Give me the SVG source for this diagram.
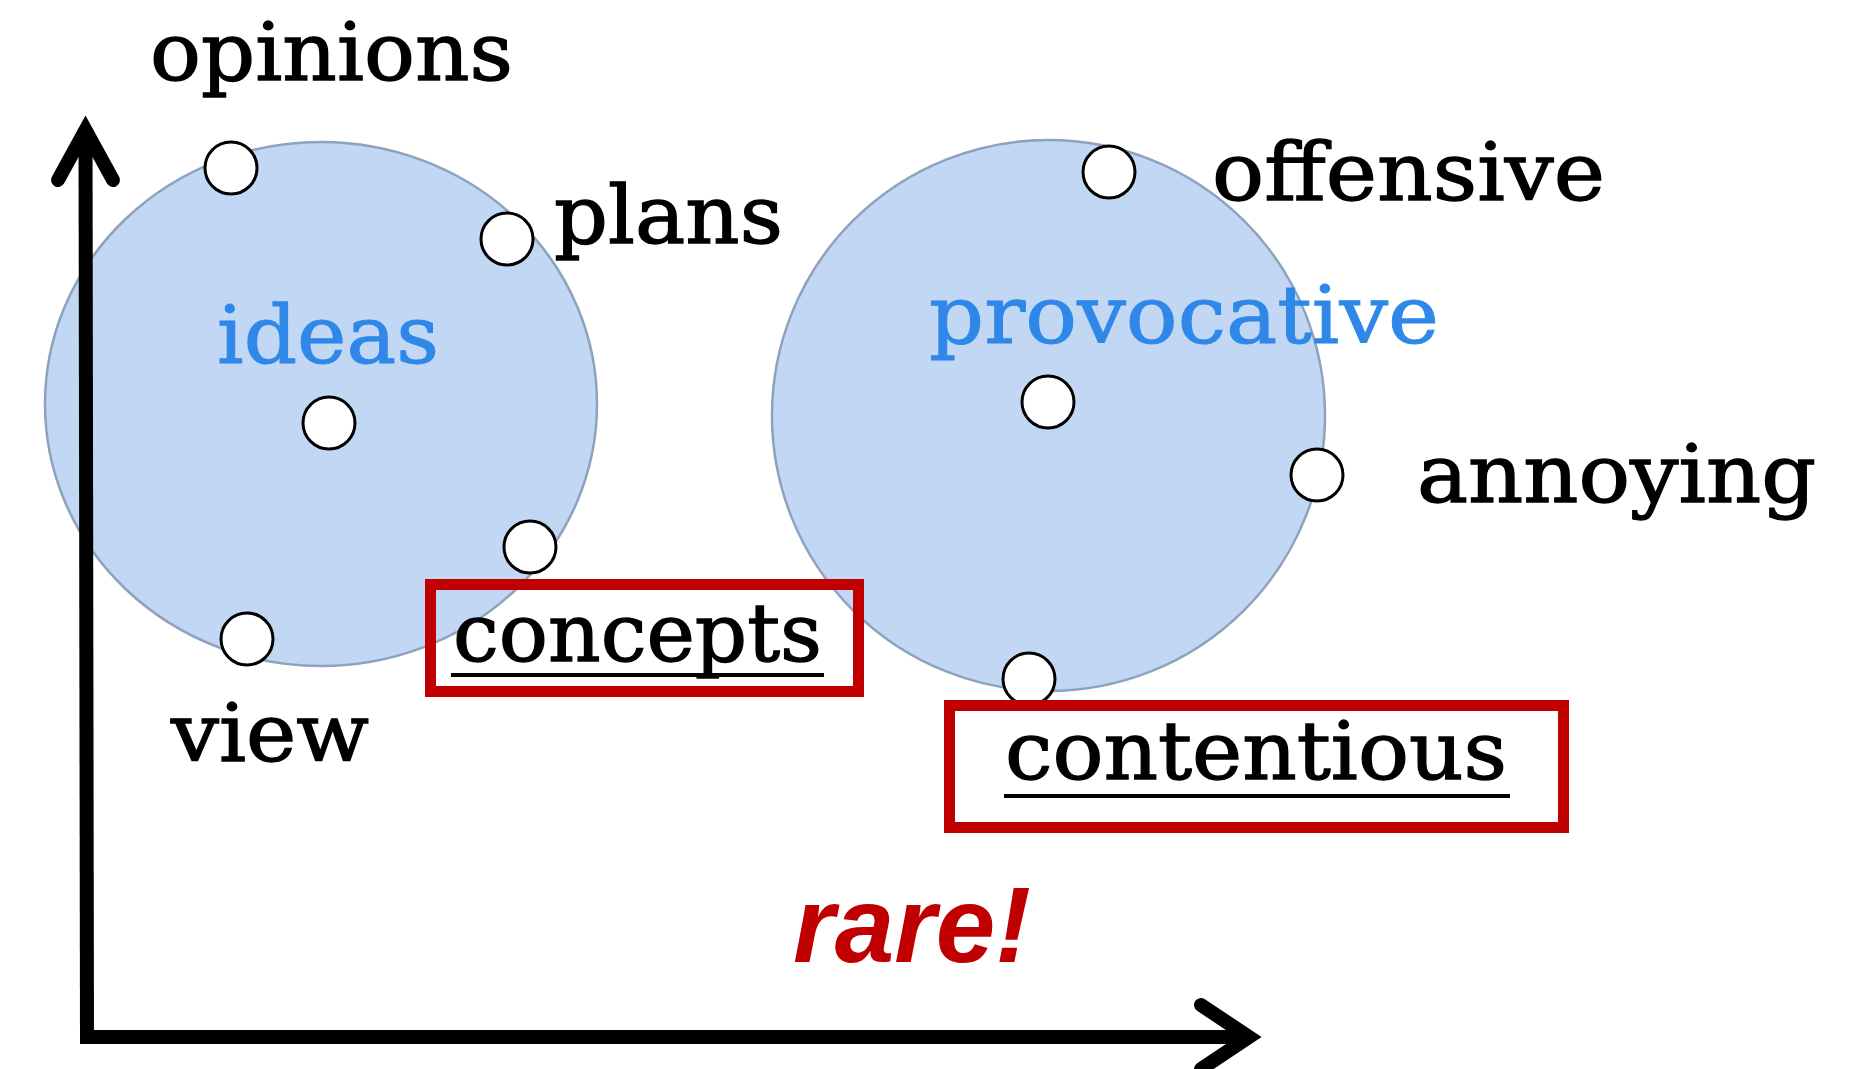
<svg xmlns="http://www.w3.org/2000/svg" width="1850" height="1069" viewBox="0 0 1850 1069">
  <style>
    .cluster { fill: #c1d7f3; stroke: #8ea2bd; stroke-width: 2.5; }
    .dot { fill: #ffffff; stroke: #000000; stroke-width: 3; }
    .word { font-family: "DejaVu Serif", "Liberation Serif", serif; font-size: 80px; fill: #000000; stroke: #000000; stroke-width: 1.3; }
    .group-label { font-family: "DejaVu Serif", "Liberation Serif", serif; font-size: 80px; fill: #2f88e8; stroke: #2f88e8; stroke-width: 1; }
    .axis { fill: none; stroke: #000000; stroke-width: 14; }
    .head { fill: none; stroke: #000000; stroke-width: 14; stroke-linecap: round; stroke-linejoin: miter; stroke-miterlimit: 10; }
    .highlight { fill: none; stroke: #c00000; stroke-width: 11; }
    .underline { stroke: #000000; stroke-width: 4; }
    .note { font-family: "Liberation Sans", Arial, sans-serif; font-size: 107px; font-weight: bold; font-style: italic; fill: #c00000; }
  </style>

  <!-- clusters -->
  <g id="cluster-ideas">
    <ellipse class="cluster" cx="321" cy="404" rx="276" ry="262"/>
    <text class="group-label" x="217" y="363" textLength="222" lengthAdjust="spacingAndGlyphs">ideas</text>
  </g>
  <g id="cluster-provocative">
    <ellipse class="cluster" cx="1048.5" cy="415.5" rx="276.5" ry="275.5"/>
    <text class="group-label" x="929" y="343" textLength="510" lengthAdjust="spacingAndGlyphs">provocative</text>
  </g>

  <!-- axes -->
  <g id="connectors">
    <line class="axis" x1="85.5" y1="128" x2="87" y2="1044"/>
    <polyline class="head" points="58,180 85.5,130 113,180"/>
    <line class="axis" x1="80" y1="1037" x2="1250" y2="1037"/>
    <polyline class="head" points="1201,1005 1249,1037 1201,1069"/>
  </g>

  <!-- word nodes -->
  <g id="node-opinions">
    <circle class="dot" cx="231" cy="168" r="26"/>
    <text class="word" x="150" y="80" textLength="363" lengthAdjust="spacingAndGlyphs">opinions</text>
  </g>
  <g id="node-plans">
    <circle class="dot" cx="507" cy="239" r="26"/>
    <text class="word" x="554" y="243" textLength="229" lengthAdjust="spacingAndGlyphs">plans</text>
  </g>
  <g id="node-ideas-center">
    <circle class="dot" cx="329" cy="423" r="26"/>
  </g>
  <g id="node-concepts">
    <circle class="dot" cx="530" cy="547" r="26"/>
    <rect class="highlight" x="430.5" y="584.5" width="428" height="107"/>
    <text class="word" x="453" y="661" textLength="369" lengthAdjust="spacingAndGlyphs">concepts</text>
    <line class="underline" x1="451" y1="675" x2="824" y2="675"/>
  </g>
  <g id="node-view">
    <circle class="dot" cx="247" cy="639" r="26"/>
    <text class="word" x="171" y="761" textLength="198" lengthAdjust="spacingAndGlyphs">view</text>
  </g>
  <g id="node-offensive">
    <circle class="dot" cx="1109" cy="172" r="26"/>
    <text class="word" x="1212" y="200" textLength="393" lengthAdjust="spacingAndGlyphs">offensive</text>
  </g>
  <g id="node-provocative-center">
    <circle class="dot" cx="1048" cy="402" r="26"/>
  </g>
  <g id="node-annoying">
    <circle class="dot" cx="1317" cy="475" r="26"/>
    <text class="word" x="1417" y="502" textLength="399" lengthAdjust="spacingAndGlyphs">annoying</text>
  </g>
  <g id="node-contentious">
    <circle class="dot" cx="1029" cy="679" r="26"/>
    <rect class="highlight" x="949.5" y="705.5" width="614" height="122"/>
    <text class="word" x="1005" y="779" textLength="502" lengthAdjust="spacingAndGlyphs">contentious</text>
    <line class="underline" x1="1004" y1="796" x2="1510" y2="796"/>
  </g>

  <text class="note" x="793" y="962" textLength="238" lengthAdjust="spacingAndGlyphs">rare!</text>
</svg>
